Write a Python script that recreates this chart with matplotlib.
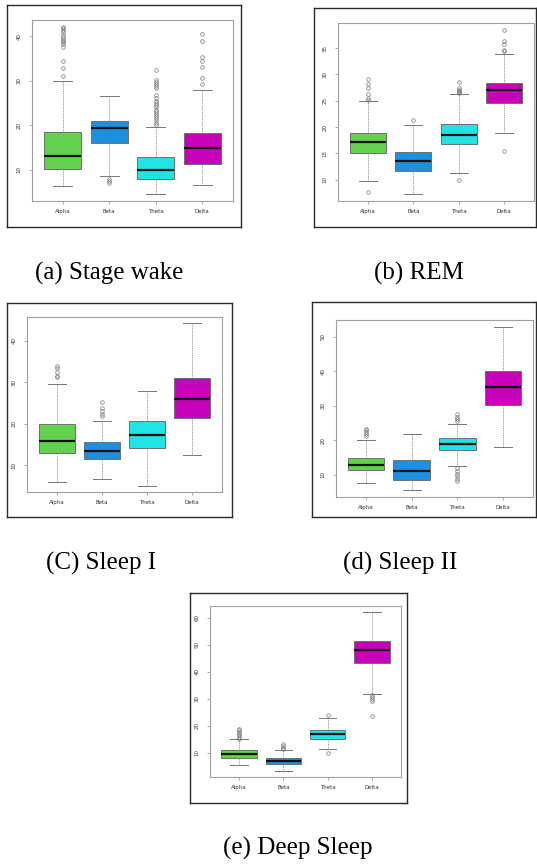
import matplotlib
matplotlib.use("Agg")
import matplotlib.pyplot as plt

# 밴드 이름과 색
bands = ["Alpha", "Beta", "Theta", "Delta"]
band_colors = ["#62d24e", "#1f8fe0", "#22e2e4", "#c900b9"]

# 패널 제목
captions = ["(a) Stage wake", "(b) REM", "(C) Sleep I", "(d) Sleep II", "(e) Deep Sleep"]

# 상자그림 통계값 (패널별 Alpha, Beta, Theta, Delta)
q1 = [[10.2, 16.0, 7.9, 11.3],
      [15.0, 11.7, 16.7, 24.5],
      [13.0, 11.6, 14.2, 21.4],
      [11.2, 8.5, 17.2, 30.1],
      [7.9, 5.8, 15.2, 43.3]]
med = [[13.0, 19.3, 9.9, 14.8],
       [17.1, 13.5, 18.4, 27.0],
       [15.8, 13.5, 17.3, 26.0],
       [12.7, 11.1, 18.8, 35.3],
       [9.4, 6.9, 16.9, 47.9]]
q3 = [[18.4, 20.9, 12.8, 18.2],
      [18.9, 15.3, 20.5, 28.4],
      [19.9, 15.6, 20.6, 31.1],
      [14.9, 14.2, 20.5, 40.0],
      [10.9, 7.9, 18.5, 51.4]]
whis_lo = [[6.3, 8.6, 4.5, 6.6],
           [9.7, 7.2, 11.3, 18.9],
           [5.9, 6.7, 5.1, 12.5],
           [7.7, 5.4, 12.6, 17.9],
           [5.4, 3.3, 11.5, 31.9]]
whis_hi = [[30.0, 26.6, 19.6, 27.9],
           [25.0, 20.3, 26.2, 33.9],
           [29.7, 20.6, 28.0, 44.2],
           [20.1, 21.8, 24.8, 52.9],
           [15.2, 10.9, 23.0, 62.0]]

# 이상치
outliers = [
    [[31.0, 32.8, 34.3, 37.6, 38.2, 38.7, 39.0, 39.4, 39.8, 40.3, 40.8, 41.3, 41.7, 42.1],
     [7.0, 7.5, 8.0],
     [20.1, 20.6, 21.1, 21.6, 22.1, 22.6, 23.0, 23.5, 24.0, 24.5, 25.0, 25.5, 26.0, 26.8,
      28.3, 28.8, 29.3, 29.8, 30.2, 32.3],
     [29.3, 30.7, 33.0, 34.4, 35.4, 38.9, 40.5]],
    [[7.6, 25.1, 25.6, 26.3, 27.5, 28.2, 29.1],
     [21.4],
     [10.0, 26.5, 26.6, 26.9, 27.1, 27.5, 28.6],
     [15.4, 34.4, 34.7, 35.8, 36.3, 38.5]],
    [[31.3, 31.6, 32.4, 33.4, 33.9],
     [21.9, 22.3, 23.2, 23.8, 25.3],
     [],
     []],
    [[21.1, 21.8, 22.3, 22.8, 23.3],
     [],
     [8.0, 8.8, 9.5, 10.3, 11.0, 11.9, 25.6, 26.2, 26.8, 27.5],
     []],
    [[15.2, 15.8, 16.4, 17.0, 17.6, 18.2, 18.9],
     [11.2, 11.7, 12.5, 13.3],
     [10.0, 23.9],
     [23.5, 29.0, 29.8, 30.5, 31.2]],
]

# y축 눈금
yticks = [[10, 20, 30, 40],
          [10, 15, 20, 25, 30, 35],
          [10, 20, 30, 40],
          [10, 20, 30, 40, 50],
          [10, 20, 30, 40, 50, 60]]

W, H = 537, 866
# 픽셀 위치 (x0, y0, x1, y1) - 바깥 테두리 / 안쪽 플롯
frames = [(7, 5, 241, 227), (314, 8, 536, 227), (7, 303, 232, 517),
          (312, 302, 536, 517), (190, 593, 407, 803)]
inners = [(32, 20, 233, 201), (338, 23, 534, 201), (27, 317, 222, 492),
          (336, 320, 533, 497), (210, 606, 401, 777)]
cap_pos = [(109, 273), (419, 273), (101, 563), (400, 563), (298, 848)]


def to_rect(b):
    x0, y0, x1, y1 = b
    return [x0 / W, 1 - y1 / H, (x1 - x0) / W, (y1 - y0) / H]


fig = plt.figure(figsize=(W / 100, H / 100), dpi=100)

for p in range(5):
    # 바깥 테두리
    fr = fig.add_axes(to_rect(frames[p]))
    fr.set_xticks([])
    fr.set_yticks([])
    for s in fr.spines.values():
        s.set_color("#2a2a2a")
        s.set_linewidth(1.0)

    ax = fig.add_axes(to_rect(inners[p]))
    stats = []
    for i in range(4):
        stats.append(dict(med=med[p][i], q1=q1[p][i], q3=q3[p][i],
                          whislo=whis_lo[p][i], whishi=whis_hi[p][i],
                          fliers=outliers[p][i], label=bands[i]))
    bp = ax.bxp(stats, positions=[1, 2, 3, 4], widths=0.8, capwidths=0.4,
                patch_artist=True,
                boxprops=dict(edgecolor="#707070", linewidth=0.7),
                medianprops=dict(color="#111111", linewidth=1.6),
                whiskerprops=dict(color="#888888", linewidth=0.6, linestyle=(0, (1.5, 1.2))),
                capprops=dict(color="#777777", linewidth=0.7),
                flierprops=dict(marker="o", markersize=2.6, markerfacecolor="none",
                                markeredgecolor="#777777", markeredgewidth=0.5))
    for patch, c in zip(bp["boxes"], band_colors):
        patch.set_facecolor(c)

    ax.set_xlim(0.34, 4.66)
    ax.set_ymargin(0.04)
    ax.autoscale(axis="y")
    ax.set_yticks(yticks[p])
    ax.set_yticklabels([str(t) for t in yticks[p]], rotation=90, va="center")
    ax.set_xticks([1, 2, 3, 4])
    ax.set_xticklabels(bands)
    ax.tick_params(labelsize=4, length=2.5, width=0.5, color="#888888",
                   labelcolor="#333333", pad=3)
    ax.tick_params(axis="y", pad=5)
    for s in ax.spines.values():
        s.set_color("#a0a0a0")
        s.set_linewidth(0.8)

    cx, cy = cap_pos[p]
    fig.text(cx / W, 1 - cy / H, captions[p], ha="center", va="center",
             fontsize=18, family="Liberation Serif")

fig.savefig("out.png", dpi=100)
